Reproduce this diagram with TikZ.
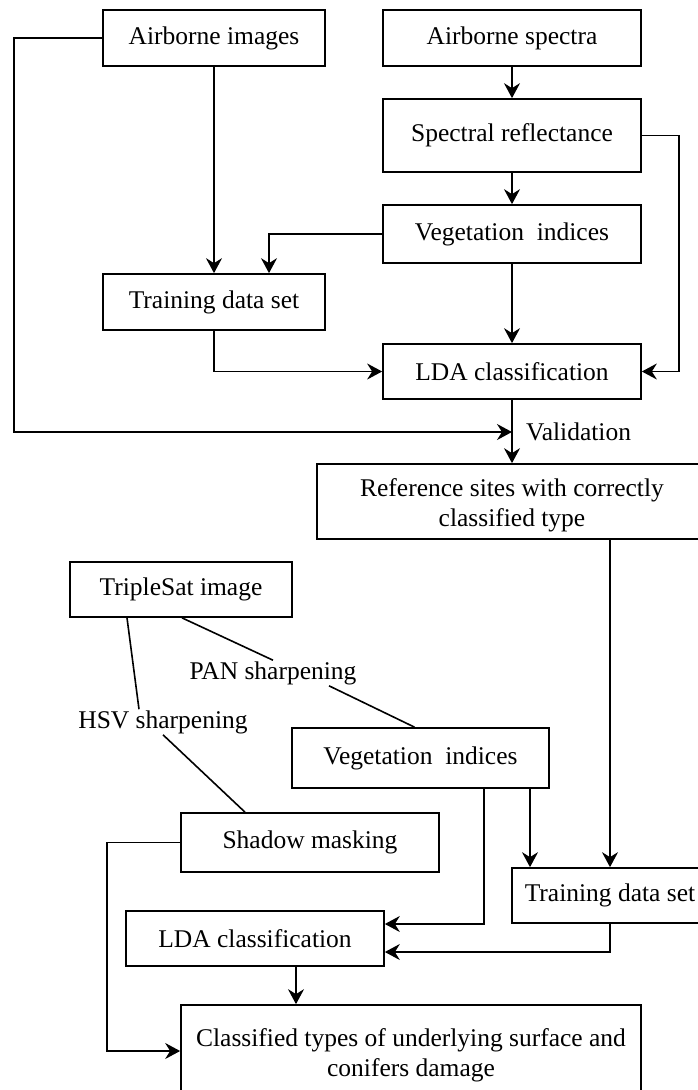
\documentclass[tikz,border=0pt]{standalone}
\usepackage{fontspec}
\setmainfont{Liberation Serif}
\usetikzlibrary{arrows.meta}
\begin{document}
\begin{tikzpicture}[x=1pt,y=-1pt,
  box/.style={draw,line width=1.7pt,rectangle,inner sep=0pt,align=center,font=\fontsize{25.5}{30}\selectfont},
  lbl/.style={inner sep=1pt,font=\fontsize{25.5}{30}\selectfont},
  ln/.style={line width=1.6pt},
  arr/.style={line width=1.6pt,-{Stealth[length=15pt,width=16pt,inset=5pt]}}]
\useasboundingbox (0,0) rectangle (698,1090);
\node[box,minimum width=222pt,minimum height=56pt] (ai) at (214,38) {Airborne images};
\node[box,minimum width=258pt,minimum height=56pt] (as) at (512,38) {Airborne spectra};
\node[box,minimum width=258pt,minimum height=73pt] (sr) at (512,135.5) {Spectral reflectance};
\node[box,minimum width=258pt,minimum height=58pt] (vi) at (512,234) {Vegetation\ \ indices};
\node[box,minimum width=222pt,minimum height=56pt] (td) at (214,302) {Training data set};
\node[box,minimum width=258pt,minimum height=55pt] (lda) at (512,371.5) {LDA classification};
\coordinate (v) at (512,432);
\node[lbl,anchor=west] (val) at (525,432) {Validation};
\node[box,minimum width=390pt,minimum height=75pt] (ref) at (512,501.5) {\rule{0pt}{26pt}Reference sites with correctly\\classified type};
\node[box,minimum width=222pt,minimum height=55pt] (ts) at (181,589.5) {TripleSat image};
\node[lbl] (pan) at (273,673) {PAN sharpening};
\node[lbl] (hsv) at (163,722) {HSV sharpening};
\node[box,minimum width=257pt,minimum height=60pt] (vi2) at (420.5,758) {Vegetation\ \ indices};
\node[box,minimum width=258pt,minimum height=59pt] (sm) at (310,842.5) {Shadow masking};
\node[box,minimum width=196pt,minimum height=55pt] (td2) at (610,895.5) {Training data set};
\node[box,minimum width=258pt,minimum height=55pt] (lda2) at (255,938.5) {LDA classification};
\node[box,minimum width=460pt,minimum height=92pt] (cl) at (411,1051) {\rule{0pt}{26pt}Classified types of underlying surface and\\conifers damage};
% top part
\draw[arr] (ai.west) -- ++(-88,0) |- (v);
\draw[arr] (ai.south) -- (td.north);
\draw[arr] (as.south) -- (sr.north);
\draw[arr] (sr.south) -- (vi.north);
\draw[arr] (sr.east) -- ++(37,0) |- (lda.east);
\draw[arr] (vi.west) -| ([xshift=55pt]td.north);
\draw[arr] (vi.south) -- (lda.north);
\draw[arr] (td.south) |- (lda.west);
\draw[arr] (lda.south) -- (ref.north);
\draw[arr] (td2.north |- ref.south) -- (td2.north);
% bottom part
\draw[ln] ([xshift=1pt]ts.south) -- (pan.north);
\draw[ln] ([xshift=56pt]pan.south) -- ([xshift=-6pt]vi2.north);
\draw[ln] ([xshift=-54pt]ts.south) -- ([xshift=-24pt]hsv.north);
\draw[ln] (hsv.south) -- ([xshift=-65pt]sm.north);
\draw[arr] (sm.west) -- ++(-73,0) |- (cl.west);
\draw[arr] ([xshift=63.5pt]vi2.south) |- ([yshift=14.5pt]lda2.east);
\draw[arr] ([xshift=109.5pt]vi2.south) -- ([xshift=109.5pt]vi2.south |- td2.north);
\draw[arr] (td2.south) |- ([yshift=-13.5pt]lda2.east);
\draw[arr] ([xshift=41pt]lda2.south) -- ([xshift=41pt]lda2.south |- cl.north);
\end{tikzpicture}
\end{document}
